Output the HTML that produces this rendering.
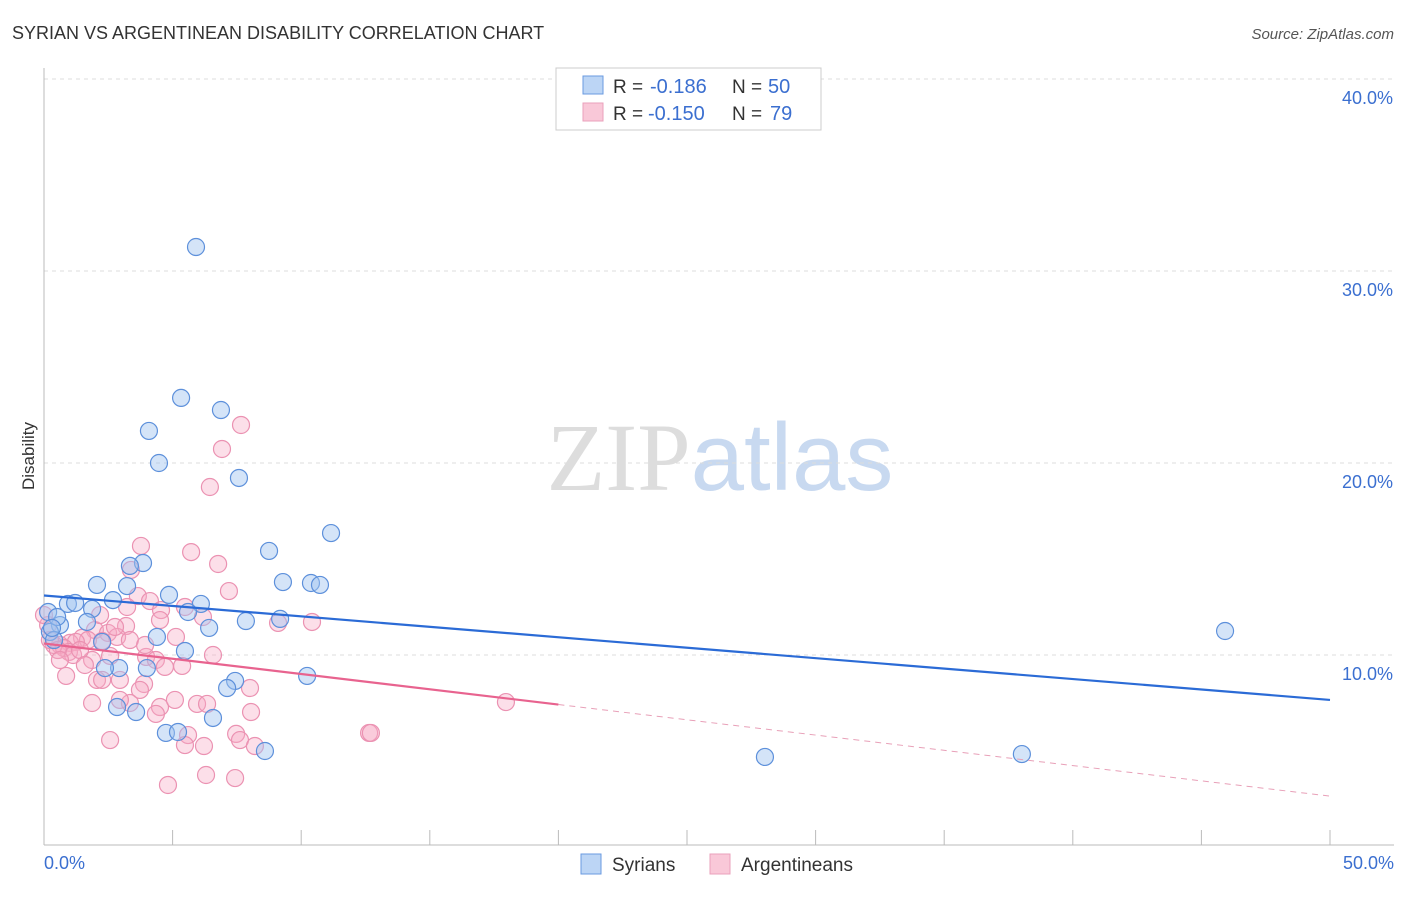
<!DOCTYPE html>
<html><head><meta charset="utf-8"><style>
body{margin:0;background:#fff;font-family:"Liberation Sans",sans-serif;}
svg text{font-family:"Liberation Sans",sans-serif;}
</style></head><body>
<svg id="chart" width="1406" height="892" viewBox="0 0 1406 892" xmlns="http://www.w3.org/2000/svg">
<text x="12" y="39" font-size="18" fill="#333">SYRIAN VS ARGENTINEAN DISABILITY CORRELATION CHART</text>
<text x="1394" y="39" font-size="15" fill="#555" font-style="italic" text-anchor="end">Source: ZipAtlas.com</text>
<text x="720" y="490" font-size="96" text-anchor="middle"><tspan fill="#ddd" font-family="Liberation Serif">ZIP</tspan><tspan fill="#c8d9f0">atlas</tspan></text>
<g id="grid"></g>
<line x1="44" y1="68" x2="44" y2="845" stroke="#bbb"/>
<line x1="44" y1="845" x2="1394" y2="845" stroke="#bbb"/>
<g id="ticks"></g>
<text transform="translate(34,456) rotate(-90)" font-size="17" fill="#333" text-anchor="middle">Disability</text>
<text x="44" y="869" font-size="18" fill="#3b6fd0">0.0%</text>
<text x="1394" y="869" font-size="18" fill="#3b6fd0" text-anchor="end">50.0%</text>
<g id="ylabels"></g>
<g id="pink"></g>
<g id="blue"></g>
<g id="trends"></g>
<g>
<rect x="556" y="68" width="265" height="62" fill="#fff" stroke="#ccc"/>
<rect x="583" y="76" width="20" height="18" fill="#bcd5f5" stroke="#6a9ae0"/>
<rect x="583" y="103" width="20" height="18" fill="#f9c8d8" stroke="#eaa0bb"/>
<text x="613" y="93" font-size="19" fill="#333">R =</text>
<text x="650" y="93" font-size="20" fill="#3b6fd0">-0.186</text>
<text x="732" y="93" font-size="19" fill="#333">N =</text>
<text x="768" y="93" font-size="20" fill="#3b6fd0">50</text>
<text x="613" y="120" font-size="19" fill="#333">R =</text>
<text x="648" y="120" font-size="20" fill="#3b6fd0">-0.150</text>
<text x="732" y="120" font-size="19" fill="#333">N =</text>
<text x="770" y="120" font-size="20" fill="#3b6fd0">79</text>
</g>
<g>
<rect x="581" y="854" width="20" height="20" fill="#bcd5f5" stroke="#6a9ae0"/>
<text x="612" y="871" font-size="19" fill="#333">Syrians</text>
<rect x="710" y="854" width="20" height="20" fill="#f9c8d8" stroke="#eaa0bb"/>
<text x="741" y="871" font-size="19" fill="#333">Argentineans</text>
</g>
</svg>
<script>
const yTicks=[10,20,30,40];
const yTickLabels=["10.0%","20.0%","30.0%","40.0%"];
const xTicks=[0,5,10,15,20,25,30,35,40,45,50];
const blueX=[5.91,5.33,6.88,4.08,4.47,7.58,11.16,8.75,3.85,3.34,2.06,3.23,9.29,10.38,10.73,4.86,2.68,0.93,1.21,6.10,1.87,5.60,9.18,7.85,1.67,0.62,6.42,0.23,4.39,0.39,2.26,5.48,10.23,2.92,2.37,4.00,7.43,7.12,2.84,3.58,4.74,5.21,6.57,8.59,45.92,38.02,28.03,0.16,0.51,0.31];
const blueY=[31.25,23.39,22.76,21.67,20.0,19.22,16.35,15.42,14.79,14.64,13.65,13.59,13.80,13.75,13.65,13.13,12.86,12.66,12.71,12.66,12.40,12.24,11.88,11.77,11.72,11.56,11.41,11.20,10.94,10.78,10.68,10.21,8.91,9.32,9.32,9.32,8.65,8.28,7.29,7.03,5.94,5.99,6.72,5.0,11.25,4.84,4.69,12.24,11.98,11.41];
const pinkX=[3.77,5.72,6.77,3.38,7.19,3.65,4.12,5.48,4.55,3.23,6.18,9.10,10.42,3.19,1.98,2.49,2.84,5.13,1.48,1.71,2.26,1.01,1.24,0.62,0.39,0.78,0.97,1.13,6.57,2.57,3.97,4.35,1.87,4.70,5.37,0.86,2.06,2.95,2.26,8.01,3.89,1.87,3.34,5.95,6.34,4.51,4.35,8.05,7.47,5.60,7.62,5.48,6.22,8.20,2.57,12.64,12.71,17.96,4.82,6.30,7.43,7.66,6.92,6.45,0.16,0.23,0.54,0,2.18,2.76,1.40,3.34,3.93,4.51,5.09,2.95,0.62,1.59,3.73];
const pinkY=[15.68,15.36,14.74,14.43,13.33,13.07,12.81,12.5,12.34,12.5,11.98,11.67,11.72,11.51,11.30,11.15,10.94,10.94,10.89,10.78,10.73,10.63,10.68,10.52,10.52,10.36,10.16,10.0,10.0,9.95,9.90,9.74,9.74,9.38,9.43,8.91,8.70,8.70,8.70,8.28,8.49,7.5,7.5,7.45,7.45,7.29,6.93,7.03,5.89,5.83,5.57,5.31,5.26,5.26,5.57,5.94,5.94,7.55,3.23,3.75,3.59,21.98,20.73,18.75,11.56,10.78,10.26,12.08,12.08,11.46,10.26,10.78,10.52,11.82,7.66,7.66,9.74,9.48,8.18];
const blueTrend=[13.1,7.66];
const pinkTrend=[10.6,2.65];
const pinkSolidEnd=20;
const NS="http://www.w3.org/2000/svg";
const sx=v=>44+v*25.72, sy=v=>847-v*19.2;
function mk(tag,attrs,parent){const e=document.createElementNS(NS,tag);for(const k in attrs)e.setAttribute(k,attrs[k]);parent.appendChild(e);return e;}
const grid=document.getElementById('grid'),yl=document.getElementById('ylabels');
yTicks.forEach((t,i)=>{
 const l=mk('line',{x1:44,x2:1394,y1:sy(t),y2:sy(t),stroke:'#ddd','stroke-dasharray':'4,4'},grid);
 
 
 const tx=mk('text',{x:1393,y:sy(t)+25,'font-size':18,fill:'#3b6fd0','text-anchor':'end'},yl);
 tx.textContent=yTickLabels[i];
 
 
});
const tk=document.getElementById('ticks');
xTicks.forEach(t=>{const l=mk('line',{x1:sx(t),x2:sx(t),y1:830,y2:845,stroke:'#bbb'},tk);
 
 });
const pg=document.getElementById('pink');
pinkX.forEach((x,i)=>{const c=mk('circle',{cx:sx(x),cy:sy(pinkY[i]),r:8.5,fill:'rgba(246,170,196,0.38)',stroke:'#eb92b2','stroke-width':1.2},pg);
 
 });
const bg=document.getElementById('blue');
blueX.forEach((x,i)=>{const c=mk('circle',{cx:sx(x),cy:sy(blueY[i]),r:8.5,fill:'rgba(160,196,240,0.45)',stroke:'#5d90db','stroke-width':1.2},bg);
 
 });
const tg=document.getElementById('trends');
const bt=mk('line',{x1:sx(0),y1:sy(blueTrend[0]),x2:sx(50),y2:sy(blueTrend[1]),stroke:'#2b6bd6','stroke-width':2.2},tg);


const pm=pinkTrend[0]+(pinkTrend[1]-pinkTrend[0])*pinkSolidEnd/50;
const pt=mk('line',{x1:sx(0),y1:sy(pinkTrend[0]),x2:sx(pinkSolidEnd),y2:sy(pm),stroke:'#e8638f','stroke-width':2.2},tg);


const pd=mk('line',{x1:sx(pinkSolidEnd),y1:sy(pm),x2:sx(50),y2:sy(pinkTrend[1]),stroke:'#e8a0b8','stroke-width':1,'stroke-dasharray':'6,5'},tg);


</script>
</body></html>
